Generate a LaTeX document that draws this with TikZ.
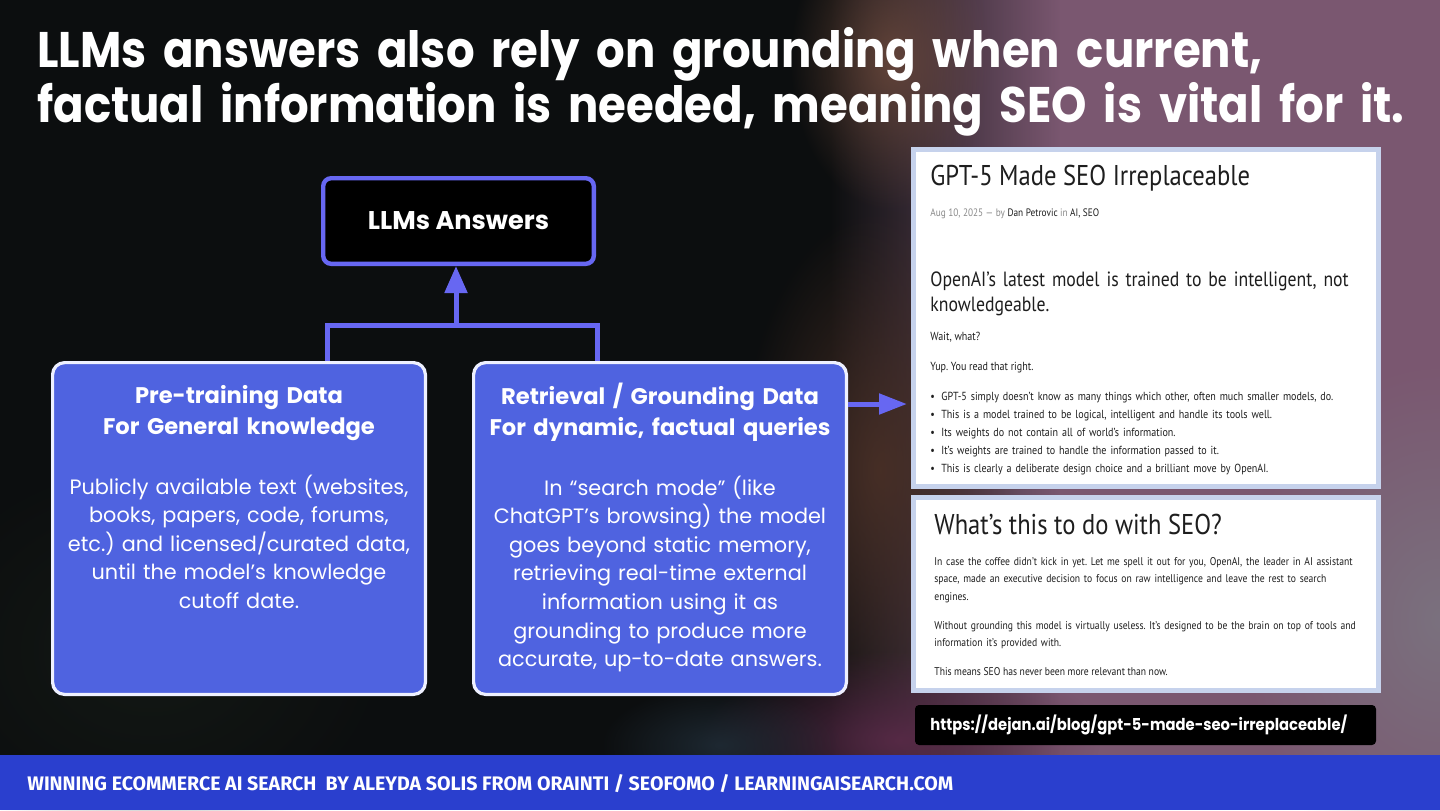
\documentclass[tikz,border=0pt]{standalone}
\usepackage{fontspec}
\setmainfont{Poppins}
\newfontfamily\titlefont[FakeStretch=0.9]{Poppins}
\newfontfamily\shotfont[FakeStretch=0.86]{PT Sans}
\newfontfamily\footfont{Fira Sans}
\usetikzlibrary{arrows.meta,fadings,calc}
\frenchspacing
\definecolor{bgdark}{HTML}{0C0E0F}
\definecolor{mauve}{HTML}{7A5770}
\definecolor{conn}{HTML}{6767F2}
\definecolor{boxblue}{HTML}{4F63E0}
\definecolor{boxline}{HTML}{EEF0FF}
\definecolor{footblue}{HTML}{2A3FCE}
\definecolor{shotline}{HTML}{C6D2EC}
\definecolor{shottext}{HTML}{1E1E1E}
\definecolor{metagrey}{HTML}{8A8A8A}
\definecolor{glowA}{HTML}{7A5240}
\definecolor{glowB}{HTML}{4A3026}
\definecolor{glowC}{HTML}{7A7480}
\definecolor{glowD}{HTML}{5A2A48}
\definecolor{glowE}{HTML}{1F2B35}
\definecolor{glowF}{HTML}{151B16}
\tikzfading[name=glowfade, inner color=transparent!0, outer color=transparent!100]
\tikzfading[name=rightfade, left color=transparent!100, right color=transparent!0]
\tikzset{
  llmbox/.style={draw=conn, line width=2.2pt, fill=black, rounded corners=4pt,
    minimum width=135.3pt, minimum height=42.8pt, inner sep=0pt, text=white,
    font=\bfseries\fontsize{12.8}{14}\selectfont},
  bluebox/.style={draw=boxline, line width=1.6pt, fill=boxblue, rounded corners=6pt,
    minimum width=186.4pt, minimum height=165.9pt, inner sep=0pt},
  headtxt/.style={anchor=base, text width=200pt, align=center, text=white, inner sep=0pt,
    font=\bfseries\fontsize{11.3}{15.5}\selectfont},
  bodytxt/.style={anchor=base, text width=200pt, align=center, text=white, inner sep=0pt,
    font=\fontsize{10.4}{14.3}\selectfont},
  conn/.style={draw=conn, line width=2.5pt},
  shotbox/.style={draw=shotline, line width=2.5pt, fill=white, inner sep=0pt,
    minimum width=232.5pt},
  shottxt/.style={anchor=base west, inner sep=0pt, text=shottext, align=left},
}
\begin{document}
\begin{tikzpicture}[x=0.5pt,y=-0.5pt]
\useasboundingbox (0,0) rectangle (1440,810);
% background
\fill[bgdark] (0,0) rectangle (1440,755);
\fill[mauve, path fading=rightfade] (830,0) rectangle (1060,755);
\fill[mauve] (1060,0) rectangle (1440,755);
\fill[glowA, path fading=glowfade, opacity=0.7] (890,60) ellipse (100 and 150);
\fill[glowB, path fading=glowfade, opacity=0.9] (880,470) ellipse (140 and 260);
\fill[glowC, path fading=glowfade, opacity=0.9] (1440,620) ellipse (200 and 260);
\fill[glowD, path fading=glowfade, opacity=0.9] (900,740) ellipse (200 and 90);
\fill[glowE, path fading=glowfade, opacity=0.9] (720,745) ellipse (120 and 60);
\fill[glowF, path fading=glowfade, opacity=0.8] (150,650) ellipse (250 and 200);
% title
\node[anchor=base west, inner sep=0pt, text width=800pt, align=left, text=white,
  font=\titlefont\bfseries\fontsize{25}{23}\selectfont] (title) at (37,67)
  {LLMs answers also rely on grounding when current,\\
   factual information is needed, meaning SEO is vital for it.};
% diagram
\node[llmbox] (llm) at (458.5,221) {LLMs Answers};
\node[bluebox] (pre) at (239,528.5) {};
\node[bluebox] (grd) at (660,528.5) {};
\node[headtxt] (preh) at (239,403) {Pre-training Data\\For General knowledge};
\node[bodytxt] (preb) at (239,494) {Publicly available text (websites,\\books, papers, code, forums,\\etc.) and licensed/curated data,\\until the model’s knowledge\\cutoff date.};
\node[headtxt] (grdh) at (660,404) {Retrieval / Grounding Data\\For dynamic, factual queries};
\node[bodytxt] (grdb) at (660,495) {In “search mode” (like\\ChatGPT’s browsing) the model\\goes beyond static memory,\\retrieving real-time external\\information using it as\\grounding to produce more\\accurate, up-to-date answers.};
\coordinate (join) at (456,325);
\draw[conn] ([xshift=44pt]pre.north) |- (join) -| ([xshift=-31.5pt]grd.north);
\draw[conn,-{Triangle[width=11pt,length=13.5pt]}] (join) -- (join |- llm.south);
% screenshots
\node[shotbox, minimum height=168.5pt] (s1) at (1146,318) {};
\node[shotbox, minimum height=96.5pt] (s2) at (1146,594) {};
\draw[conn,-{Triangle[width=10pt,length=14pt]}] (grd.east |- 0,404) -- ([xshift=-2pt]s1.west |- 0,404);
\node[shottxt, font=\shotfont\fontsize{14.3}{16}\selectfont] (s1t) at (930,185) {GPT-5 Made SEO Irreplaceable};
\node[shottxt, font=\shotfont\fontsize{5.4}{6}\selectfont] (s1m) at (930,216) {\textcolor{metagrey}{Aug 10, 2025 — by} Dan Petrovic \textcolor{metagrey}{in} AI, SEO};
\node[shottxt, text width=230pt, font=\shotfont\fontsize{10.3}{12.5}\selectfont] (s1h) at (930,286.7) {OpenAI’s latest model is trained to be intelligent, not\\knowledgeable.};
\node[shottxt, font=\shotfont\fontsize{5.85}{7}\selectfont] (s1w) at (930,340) {Wait, what?};
\node[shottxt, font=\shotfont\fontsize{5.85}{7}\selectfont] (s1y) at (930,370) {Yup. You read that right.};
\node[shottxt, text width=230pt, font=\shotfont\fontsize{5.85}{9.05}\selectfont] (s1l) at (930,400) {%
\makebox[5.5pt][l]{•}GPT-5 simply doesn’t know as many things which other, often much smaller models, do.\\
\makebox[5.5pt][l]{•}This is a model trained to be logical, intelligent and handle its tools well.\\
\makebox[5.5pt][l]{•}Its weights do not contain all of world’s information.\\
\makebox[5.5pt][l]{•}It’s weights are trained to handle the information passed to it.\\
\makebox[5.5pt][l]{•}This is clearly a deliberate design choice and a brilliant move by OpenAI.};
\node[shottxt, font=\shotfont\fontsize{14.3}{15}\selectfont] (s2t) at (934,534.3) {What’s this to do with SEO?};
\node[shottxt, text width=230pt, font=\shotfont\fontsize{5.6}{8.75}\selectfont] (s2a) at (934,565) {In case the coffee didn’t kick in yet. Let me spell it out for you, OpenAI, the leader in AI assistant\\space, made an executive decision to focus on raw intelligence and leave the rest to search\\engines.};
\node[shottxt, text width=230pt, font=\shotfont\fontsize{5.6}{8.75}\selectfont] (s2b) at (934,629) {Without grounding this model is virtually useless. It’s designed to be the brain on top of tools and\\information it’s provided with.};
\node[shottxt, font=\shotfont\fontsize{5.6}{7}\selectfont] (s2c) at (934,675) {This means SEO has never been more relevant than now.};
% url
\node[fill=black, rounded corners=2pt, minimum width=230.5pt, minimum height=20pt, inner sep=0pt] (url) at (1145.5,725) {};
\node[anchor=base west, inner sep=0pt, text=white, font=\titlefont\bfseries\fontsize{8.2}{10}\selectfont] (urlt) at (930,730) {https://dejan.ai/blog/gpt-5-made-seo-irreplaceable/};
% footer
\fill[footblue] (0,755) rectangle (1440,810);
\node[anchor=base west, inner sep=0pt, text=white, font=\footfont\bfseries\fontsize{9.8}{11}\selectfont] (foot) at (27,790) {WINNING ECOMMERCE AI SEARCH\ \ BY ALEYDA SOLIS FROM ORAINTI / SEOFOMO / LEARNINGAISEARCH.COM};
\end{tikzpicture}
\end{document}
